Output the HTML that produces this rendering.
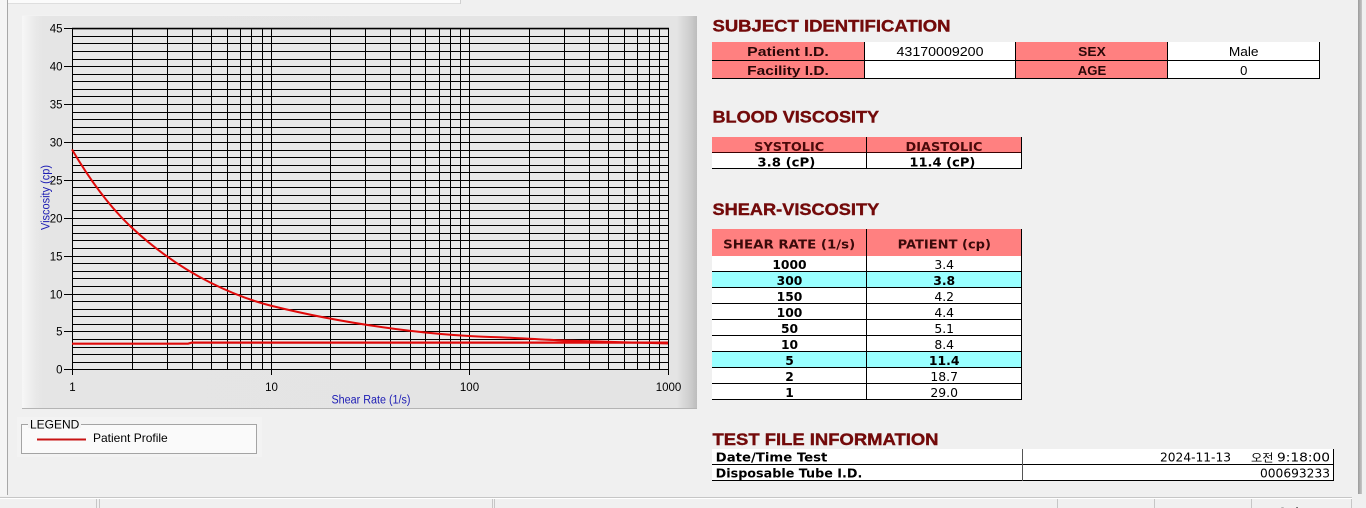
<!DOCTYPE html>
<html>
<head>
<meta charset="utf-8">
<style>
html,body{margin:0;padding:0;background:#f0f0f0;width:1366px;height:508px;overflow:hidden;}
svg{display:block;}
</style>
</head>
<body>
<svg width="1366" height="508" viewBox="0 0 1366 508" xmlns="http://www.w3.org/2000/svg" font-family="'Liberation Sans', sans-serif">
<defs>
<linearGradient id="pg" x1="0" y1="0" x2="1" y2="0">
<stop offset="0" stop-color="#f7f7f7"/>
<stop offset="0.018" stop-color="#eaeaea"/>
<stop offset="0.03" stop-color="#e5e5e5"/>
<stop offset="0.97" stop-color="#e4e4e4"/>
<stop offset="0.99" stop-color="#cdcdcd"/>
<stop offset="1" stop-color="#bcbcbc"/>
</linearGradient>
<linearGradient id="rb" x1="0" y1="0" x2="1" y2="0">
<stop offset="0" stop-color="#9a9a9a"/>
<stop offset="1" stop-color="#c8c8c8"/>
</linearGradient>
</defs>

<!-- page background -->
<rect x="0" y="0" width="1366" height="508" fill="#f0f0f0"/>
<rect x="0" y="0" width="7" height="496" fill="#f5f5f5"/>
<rect x="8" y="0" width="452" height="3" fill="#fbfbfb"/>
<line x1="8" y1="3.5" x2="460" y2="3.5" stroke="#dedede"/>
<line x1="460.5" y1="0" x2="460.5" y2="4" stroke="#d0d0d0"/>
<line x1="7.5" y1="0" x2="7.5" y2="495" stroke="#a8a8a8"/>
<rect x="1358" y="0" width="4" height="494" fill="url(#rb)"/>

<!-- chart panel -->
<rect x="22" y="15" width="675" height="394" fill="url(#pg)"/>
<line x1="22" y1="15.5" x2="697" y2="15.5" stroke="#f2f2f2"/>
<line x1="22" y1="408.5" x2="697" y2="408.5" stroke="#b4b4b4"/>

<!-- plot area -->
<rect x="72" y="28" width="596" height="341" fill="#e9e9e9"/>

<!-- horizontal grid -->
<path fill="none" stroke="#000" stroke-width="1" d="M72 362.5H668M72 354.5H668M72 347.5H668M72 339.5H668M72 331.5H668M72 324.5H668M72 316.5H668M72 309.5H668M72 301.5H668M72 294.5H668M72 286.5H668M72 278.5H668M72 271.5H668M72 263.5H668M72 256.5H668M72 248.5H668M72 240.5H668M72 233.5H668M72 225.5H668M72 218.5H668M72 210.5H668M72 203.5H668M72 195.5H668M72 187.5H668M72 180.5H668M72 172.5H668M72 165.5H668M72 157.5H668M72 150.5H668M72 142.5H668M72 134.5H668M72 127.5H668M72 119.5H668M72 112.5H668M72 104.5H668M72 96.5H668M72 89.5H668M72 81.5H668M72 74.5H668M72 66.5H668M72 59.5H668M72 51.5H668M72 43.5H668M72 36.5H668"/>
<!-- vertical grid -->
<path fill="none" stroke="#000" stroke-width="1" d="M132.5 28V369M167.5 28V369M192.5 28V369M211.5 28V369M227.5 28V369M240.5 28V369M251.5 28V369M262.5 28V369M271.5 28V369M330.5 28V369M365.5 28V369M390.5 28V369M410.5 28V369M425.5 28V369M439.5 28V369M450.5 28V369M460.5 28V369M469.5 28V369M529.5 28V369M564.5 28V369M589.5 28V369M608.5 28V369M624.5 28V369M637.5 28V369M649.5 28V369M659.5 28V369"/>
<!-- frame -->
<path fill="none" stroke="#000" stroke-width="1" d="M72.5 28V369.5M668.5 28V369.5M72 369.5H669"/>
<path fill="none" stroke="#000" stroke-width="1.6" d="M72 28.6H669"/>
<!-- ticks -->
<path fill="none" stroke="#000" stroke-width="1" d="M64 369.5H72M64 331.5H72M64 294.5H72M64 256.5H72M64 218.5H72M64 180.5H72M64 142.5H72M64 104.5H72M64 66.5H72M64 28.5H72M72.5 369V375M271.5 369V375M469.5 369V375M668.5 369V375"/>

<!-- y tick labels -->
<g font-size="11.5" fill="#000" text-anchor="end">
<text x="62.5" y="373.5">0</text>
<text x="62.5" y="335.5">5</text>
<text x="62.5" y="298.5">10</text>
<text x="62.5" y="260.5">15</text>
<text x="62.5" y="222.5">20</text>
<text x="62.5" y="184.5">25</text>
<text x="62.5" y="146.5">30</text>
<text x="62.5" y="108.5">35</text>
<text x="62.5" y="70.5">40</text>
<text x="62.5" y="32.5">45</text>
</g>
<!-- x tick labels -->
<g font-size="11.5" fill="#000" text-anchor="middle">
<text x="72.5" y="391">1</text>
<text x="271.5" y="391">10</text>
<text x="469.5" y="391">100</text>
<text x="668.5" y="391">1000</text>
</g>
<text x="371" y="403.5" font-size="11.5" fill="#1c1cb4" text-anchor="middle" textLength="79" lengthAdjust="spacingAndGlyphs">Shear Rate (1/s)</text>
<text transform="translate(49.5,197.5) rotate(-90)" font-size="11.5" fill="#1c1cb4" text-anchor="middle" textLength="65" lengthAdjust="spacingAndGlyphs">Viscosity (cp)</text>

<!-- series -->
<path fill="none" stroke="#e00a0a" stroke-width="2.2" d="M72 343.7H188L192 342.6H668"/>
<path fill="none" stroke="#e00a0a" stroke-width="2" d="M72 149.5C91.93 183.4 111.87 209.07 131.8 227.6C158.17 252.12 184.53 269.72 210.9 282.9C230.83 292.87 250.77 300.62 270.7 305.6C316.97 317.17 363.23 325.15 409.5 330.7C429.43 333.09 449.37 334.8 469.3 336.0C480.97 336.7 492.63 336.96 504.3 337.5C524.23 338.42 544.17 339.74 564.1 340.5C598.73 341.82 633.37 342.81 668 343.5"/>

<!-- legend -->
<rect x="17" y="417" width="245" height="40" fill="#f3f3f3"/>
<rect x="21.5" y="424.5" width="235" height="29" fill="#fafafa" stroke="#a4a4a4" stroke-width="1"/>
<rect x="28" y="420" width="53" height="8" fill="#f3f3f3"/>
<text x="30" y="428.3" font-size="12" fill="#000">LEGEND</text>
<line x1="37" y1="439.5" x2="86" y2="439.5" stroke="#c81414" stroke-width="2"/>
<text x="93" y="442" font-size="12" fill="#000">Patient Profile</text>

<!-- SUBJECT IDENTIFICATION -->
<text x="712.5" y="31.5" font-size="17" font-weight="bold" fill="#730a0a" stroke="#730a0a" stroke-width="0.4" textLength="238" lengthAdjust="spacingAndGlyphs">SUBJECT IDENTIFICATION</text>
<rect x="712" y="42" width="152" height="37" fill="#ff8080"/>
<rect x="864" y="42" width="152" height="37" fill="#ffffff"/>
<rect x="1016" y="42" width="151" height="37" fill="#ff8080"/>
<rect x="1167" y="42" width="153" height="37" fill="#ffffff"/>
<path fill="none" stroke="#000" stroke-width="1" d="M712 60.5H1320M712 78.5H1320M864.5 42V79M1015.5 42V79M1167.5 42V79M1319.5 42V79"/>
<g font-size="13" font-weight="bold" fill="#2a0808" text-anchor="middle">
<text x="788" y="56" textLength="81.6" lengthAdjust="spacingAndGlyphs">Patient I.D.</text>
<text x="788" y="75" textLength="81.6" lengthAdjust="spacingAndGlyphs">Facility I.D.</text>
<text x="1092" y="56" textLength="27.6" lengthAdjust="spacingAndGlyphs">SEX</text>
<text x="1092" y="75" textLength="28.5" lengthAdjust="spacingAndGlyphs">AGE</text>
</g>
<g font-size="13" fill="#000" text-anchor="middle">
<text x="940" y="56" textLength="87" lengthAdjust="spacingAndGlyphs">43170009200</text>
<text x="1243.7" y="56" textLength="29.7" lengthAdjust="spacingAndGlyphs">Male</text>
<text x="1243.8" y="75">0</text>
</g>

<!-- BLOOD VISCOSITY -->
<text x="712.5" y="122.7" font-size="17" font-weight="bold" fill="#730a0a" stroke="#730a0a" stroke-width="0.4" textLength="166.6" lengthAdjust="spacingAndGlyphs">BLOOD VISCOSITY</text>
<rect x="712" y="137" width="310" height="15" fill="#ff8080"/>
<rect x="712" y="152" width="310" height="16" fill="#ffffff"/>
<path fill="none" stroke="#3a0000" stroke-width="1" d="M712 152.5H1022"/>
<path fill="none" stroke="#000" stroke-width="1" d="M712 168.5H1022M866.5 137V169M1021.5 137V169"/>
<g font-family="'DejaVu Sans', sans-serif" font-size="12" font-weight="bold" text-anchor="middle">
<text x="789.2" y="151.2" fill="#4a0a0a" textLength="70" lengthAdjust="spacingAndGlyphs">SYSTOLIC</text>
<text x="944" y="151.2" fill="#4a0a0a" textLength="77" lengthAdjust="spacingAndGlyphs">DIASTOLIC</text>
<text x="786.4" y="166.5" fill="#000" textLength="58" lengthAdjust="spacingAndGlyphs">3.8 (cP)</text>
<text x="942.4" y="166.5" fill="#000" textLength="66" lengthAdjust="spacingAndGlyphs">11.4 (cP)</text>
</g>

<!-- SHEAR-VISCOSITY -->
<text x="712.5" y="215" font-size="17" font-weight="bold" fill="#730a0a" stroke="#730a0a" stroke-width="0.4" textLength="166.7" lengthAdjust="spacingAndGlyphs">SHEAR-VISCOSITY</text>
<rect x="712" y="229" width="310" height="27" fill="#ff8080"/>
<rect x="712" y="256" width="310" height="144" fill="#ffffff"/>
<rect x="712" y="272" width="310" height="16" fill="#99ffff"/>
<rect x="712" y="352" width="310" height="16" fill="#99ffff"/>
<path fill="none" stroke="#000" stroke-width="1" d="M712 271.5H1022M712 287.5H1022M712 303.5H1022M712 319.5H1022M712 335.5H1022M712 351.5H1022M712 367.5H1022M712 383.5H1022M712 399.5H1022M866.5 229V400M1021.5 229V400"/>
<g font-family="'DejaVu Sans', sans-serif" font-weight="bold" fill="#3a0a0a" text-anchor="middle" font-size="12.4">
<text x="789.2" y="248.3" textLength="132" lengthAdjust="spacingAndGlyphs">SHEAR RATE (1/s)</text>
<text x="944.3" y="248.3" textLength="93.3" lengthAdjust="spacingAndGlyphs">PATIENT (cp)</text>
</g>
<g font-family="'DejaVu Sans', sans-serif" font-weight="bold" fill="#000" text-anchor="middle" font-size="12.3">
<text x="789.5" y="269">1000</text>
<text x="789.5" y="285">300</text>
<text x="789.5" y="301">150</text>
<text x="789.5" y="317">100</text>
<text x="789.5" y="333">50</text>
<text x="789.5" y="349">10</text>
<text x="789.5" y="365">5</text>
<text x="789.5" y="381">2</text>
<text x="789.5" y="397">1</text>
</g>
<g font-family="'DejaVu Sans', sans-serif" fill="#000" text-anchor="middle" font-size="12.4">
<text x="944.2" y="269">3.4</text>
<text x="944.2" y="285" font-weight="bold">3.8</text>
<text x="944.2" y="301">4.2</text>
<text x="944.2" y="317">4.4</text>
<text x="944.2" y="333">5.1</text>
<text x="944.2" y="349">8.4</text>
<text x="944.2" y="365" font-weight="bold">11.4</text>
<text x="944.2" y="381">18.7</text>
<text x="944.2" y="397">29.0</text>
</g>

<!-- TEST FILE INFORMATION -->
<text x="712.5" y="445" font-size="17" font-weight="bold" fill="#730a0a" stroke="#730a0a" stroke-width="0.4" textLength="226" lengthAdjust="spacingAndGlyphs">TEST FILE INFORMATION</text>
<rect x="712" y="449" width="622" height="32" fill="#ffffff"/>
<path fill="none" stroke="#000" stroke-width="1" d="M712 464.5H1334M712 480.5H1334M1333.5 449V481"/>
<path fill="none" stroke="#555" stroke-width="1" d="M1022.5 449V481"/>
<g font-family="'DejaVu Sans', sans-serif" font-weight="bold" fill="#000" font-size="12">
<text x="715.7" y="461.7" textLength="111.7" lengthAdjust="spacingAndGlyphs">Date/Time Test</text>
<text x="715.7" y="477.3" textLength="146.6" lengthAdjust="spacingAndGlyphs">Disposable Tube I.D.</text>
</g>
<g font-family="'DejaVu Sans', sans-serif" fill="#000" font-size="12">
<text x="1160" y="461.7" textLength="71" lengthAdjust="spacingAndGlyphs">2024-11-13</text>
<text x="1251" y="461.7" font-family="'Liberation Sans','Noto Sans CJK KR',sans-serif" font-size="11" textLength="22.5" lengthAdjust="spacingAndGlyphs">오전</text>
<text x="1277" y="461.7" textLength="53" lengthAdjust="spacingAndGlyphs">9:18:00</text>
<text x="1330" y="477.3" text-anchor="end" textLength="70" lengthAdjust="spacingAndGlyphs">000693233</text>
</g>

<!-- status bar -->
<rect x="0" y="497" width="1366" height="11" fill="#f0f0f0"/>
<path fill="none" stroke="#c6c6c6" stroke-width="1" d="M0 497.5H1352M96.5 497V508M99.5 497V508M492.5 497V508M494.5 497V508M1057.5 497V508M1154.5 497V508M1251.5 497V508M1351.5 497V508"/>
<path fill="none" stroke="#ffffff" stroke-width="1" d="M0 498.5H1352"/>
<text x="1277" y="517" font-family="'Liberation Sans','Noto Sans CJK KR',sans-serif" font-size="12" fill="#000">오전</text>
</svg>
</body>
</html>
